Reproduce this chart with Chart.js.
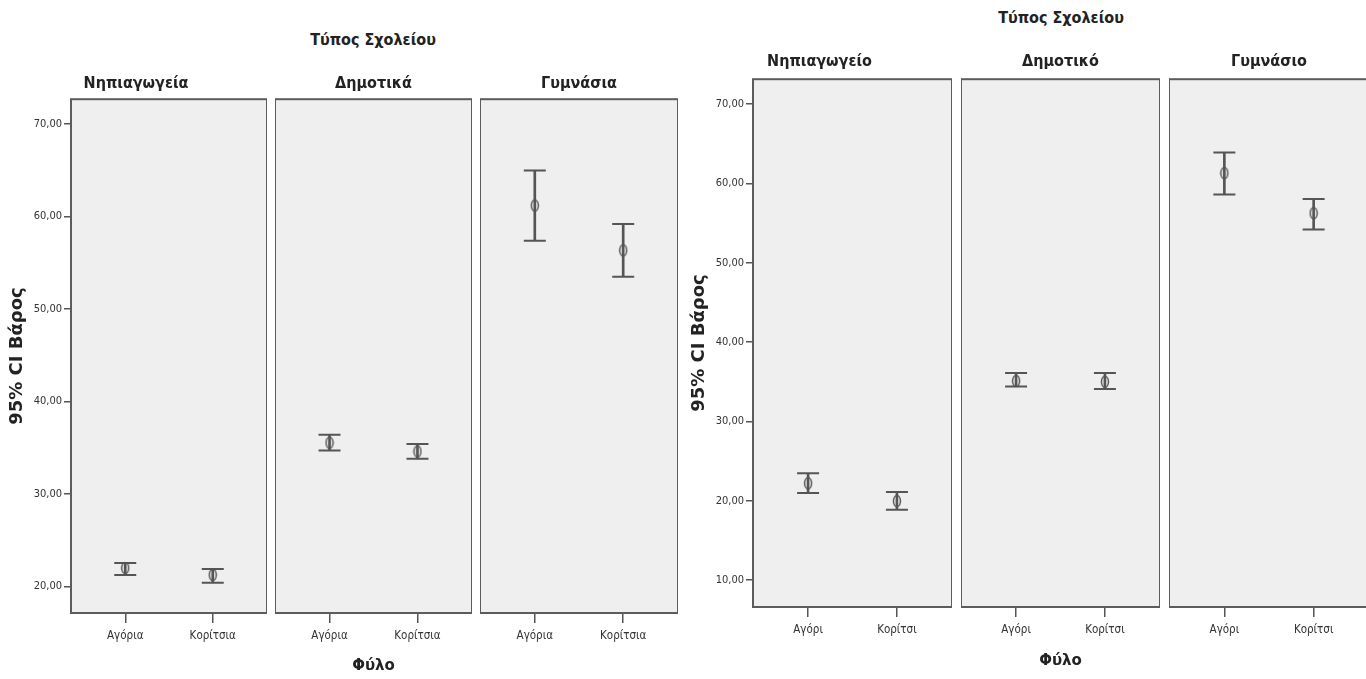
<!DOCTYPE html>
<html lang="el">
<head>
<meta charset="UTF-8" />
<title>95% CI Βάρος ανά τύπο σχολείου και φύλο</title>
<script src="https://cdn.jsdelivr.net/npm/chart.js"></script>
<style>
  body { margin: 0; width: 1366px; height: 679px; overflow: hidden; background: #fff; position: relative; }
  canvas { position: absolute; }
  .grp {
    position: absolute; transform: translateX(-50%); white-space: nowrap;
    font: bold 16px "DejaVu Sans Condensed", sans-serif;
    color: #222; line-height: 18px;
  }
</style>
</head>
<body>
<div class="grp" style="left:373px; top:31px;">Τύπος Σχολείου</div>
<div class="grp" style="left:1061px; top:9px;">Τύπος Σχολείου</div>

<script>
// πρώτο γράφημα (πληθυντικός)
const SCHOOLS_A = ['Νηπιαγωγεία', 'Δημοτικά', 'Γυμνάσια'];
const GENDER_A = ['Αγόρια', 'Κορίτσια'];
const MEAN_A = [[22.0, 21.25], [35.55, 34.6], [61.2, 56.35]];
const LOW_A  = [[21.25, 20.4], [34.7, 33.8], [57.4, 53.5]];
const HIGH_A = [[22.55, 21.9], [36.4, 35.4], [65.0, 59.2]];
const YTICKS_A = [20, 30, 40, 50, 60, 70];

// δεύτερο γράφημα (ενικός)
const SCHOOLS_B = ['Νηπιαγωγείο', 'Δημοτικό', 'Γυμνάσιο'];
const GENDER_B = ['Αγόρι', 'Κορίτσι'];
const MEAN_B = [[22.2, 19.95], [35.1, 35.0], [61.3, 56.25]];
const LOW_B  = [[20.97, 18.87], [34.4, 34.1], [58.6, 54.2]];
const HIGH_B = [[23.45, 21.1], [36.1, 36.1], [63.9, 58.05]];
const YTICKS_B = [10, 20, 30, 40, 50, 60, 70];

const NARROW = '"DejaVu Sans Condensed", sans-serif';
const INK = '#555';

// μικρή έλλειψη για το σημείο του μέσου όρου
const ellipse = document.createElement('canvas');
ellipse.width = 10; ellipse.height = 14;
(function () {
  const c = ellipse.getContext('2d');
  c.strokeStyle = INK; c.lineWidth = 1.5;
  c.beginPath(); c.ellipse(5, 7, 3.5, 5.5, 0, 0, 2 * Math.PI); c.stroke();
})();

// γκρι φόντο και πλαίσιο κάθε πάνελ
const panelFrame = {
  id: 'panelFrame',
  beforeDatasetsDraw(chart) {
    const { ctx, chartArea: a } = chart;
    ctx.save();
    ctx.fillStyle = '#efefef';
    ctx.fillRect(a.left, a.top, a.width, a.height);
    ctx.strokeStyle = '#5c5c5c';
    ctx.lineWidth = 2;
    ctx.strokeRect(a.left, a.top, a.width, a.height);
    ctx.restore();
  }
};

const groups = [
  { schools: SCHOOLS_A, gender: GENDER_A, mean: MEAN_A, low: LOW_A, high: HIGH_A, yticks: YTICKS_A,
    lefts: [71, 275, 480], rights: [267, 472, 678], top: 99, bottom: 613,
    titleTop: 74, titlePad: 6, xh: 66, yw: 66, ymin: 17.13, ymax: 72.7 },
  { schools: SCHOOLS_B, gender: GENDER_B, mean: MEAN_B, low: LOW_B, high: HIGH_B, yticks: YTICKS_B,
    lefts: [753, 961, 1169], rights: [952, 1160, 1369], top: 79, bottom: 607,
    titleTop: 52, titlePad: 8, xh: 67, yw: 66, ymin: 6.6, ymax: 73.15 }
];

function makePanel(g, i) {
  const first = i === 0;
  const left = g.lefts[i] - (first ? g.yw : 0);
  const width = g.rights[i] - left;
  const height = (g.bottom - g.titleTop) + g.xh;

  const cv = document.createElement('canvas');
  cv.width = width; cv.height = height;
  cv.style.left = left + 'px'; cv.style.top = g.titleTop + 'px';
  document.body.appendChild(cv);

  const bars = [], caps = [], means = [];
  g.gender.forEach((_, k) => {
    bars.push({ x: k, y: [g.low[i][k], g.high[i][k]] });
    caps.push({ x: k, y: g.low[i][k] }, { x: k, y: g.high[i][k] });
    means.push({ x: k, y: g.mean[i][k] });
  });

  new Chart(cv, {
    type: 'scatter',
    data: {
      datasets: [
        { type: 'bar', data: bars, backgroundColor: INK, barThickness: 2, order: 3 },
        { type: 'scatter', data: caps, pointStyle: 'line', pointRadius: 11,
          borderColor: INK, borderWidth: 2, order: 2 },
        { type: 'scatter', data: means, pointStyle: ellipse, pointRadius: 5, order: 1 }
      ]
    },
    options: {
      responsive: false,
      animation: false,
      events: [],
      layout: { padding: 0, autoPadding: false },
      plugins: {
        legend: { display: false },
        tooltip: { enabled: false },
        title: {
          display: true, text: g.schools[i], color: '#222',
          font: { family: NARROW, size: 16, weight: 'bold', lineHeight: 1.2 },
          padding: { top: 0, bottom: g.titlePad }
        }
      },
      scales: {
        x: {
          type: 'linear', min: -0.62, max: 1.62, offset: false,
          afterBuildTicks: s => { s.ticks = [0, 1].map(v => ({ value: v })); },
          afterFit: s => { s.height = g.xh; s.paddingLeft = 0; s.paddingRight = 0; },
          ticks: {
            callback: v => g.gender[v], autoSkip: false, maxRotation: 0,
            color: '#333', padding: 6, font: { family: NARROW, size: 11.5 }
          },
          grid: { drawOnChartArea: false, tickLength: 10, color: INK, lineWidth: 1.5, offset: false },
          border: { display: false },
          title: {
            display: i === 1, text: 'Φύλο', color: '#222',
            font: { family: '"DejaVu Sans", sans-serif', size: 15, weight: 'bold' }
          }
        },
        y: {
          display: first, min: g.ymin, max: g.ymax, beginAtZero: false,
          afterBuildTicks: s => { s.ticks = g.yticks.map(v => ({ value: v })); },
          afterFit: s => { s.width = first ? g.yw : 0; s.paddingTop = 0; s.paddingBottom = 0; },
          ticks: {
            callback: v => v.toFixed(2).replace('.', ','),
            color: '#333', padding: 2, font: { family: NARROW, size: 11 }
          },
          grid: { drawOnChartArea: false, tickLength: 7, color: INK, lineWidth: 1.5 },
          border: { display: false },
          title: {
            display: first, text: '95% CI Βάρος', color: '#222',
            font: { family: '"DejaVu Sans", sans-serif', size: 18, weight: 'bold' },
            padding: { top: 2, bottom: 4 }
          }
        }
      }
    },
    plugins: [panelFrame]
  });
}

groups.forEach(g => g.schools.forEach((_, i) => makePanel(g, i)));
</script>
</body>
</html>
